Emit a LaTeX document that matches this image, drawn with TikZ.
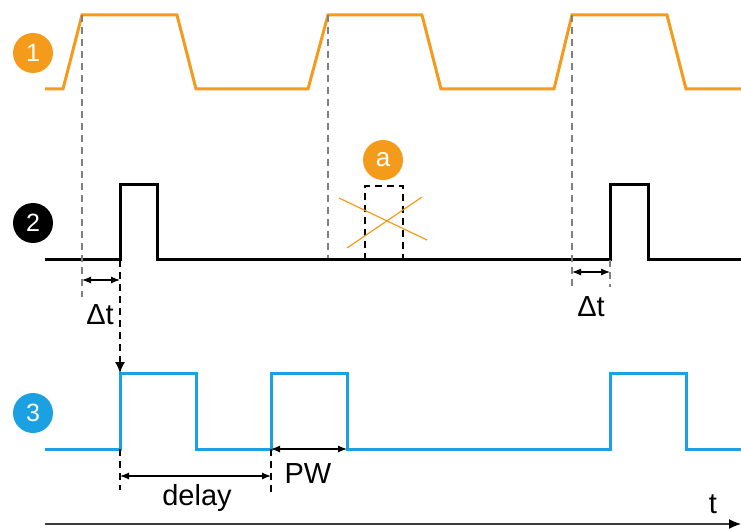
\documentclass[tikz,border=0pt]{standalone}
\usepackage{fontspec}
\setmainfont{Liberation Sans}
\usetikzlibrary{arrows.meta}
\definecolor{sig-orange}{HTML}{F59B1C}
\definecolor{sig-blue}{HTML}{1BA1E2}
\definecolor{guide-grey}{HTML}{808080}
\definecolor{axis-grey}{HTML}{3C3C3C}

\begin{document}
\begin{tikzpicture}[x=1pt, y=-1pt,
    every node/.style={font=\fontsize{29}{30}\selectfont},
    badge/.style={circle, fill=#1, text=white, minimum size=40pt, inner sep=0pt,
      font=\fontsize{25}{25}\selectfont},
    signal/.style={line width=3pt, draw=#1},
    guide/.style={draw=guide-grey, dash pattern=on 7pt off 5pt, line width=1.5pt},
    blackguide/.style={draw=black, dash pattern=on 7pt off 5pt, line width=1.3pt},
    dimarrow/.style={{Latex[length=9pt,width=7pt]}-{Latex[length=9pt,width=7pt]}, line width=1.2pt}]
    \useasboundingbox (0,0) rectangle (741,529);

    % labels of the three traces
    \node[badge=sig-orange] (n1) at (33,53) {1};
    \node[badge=black] (n2) at (33,223) {2};
    \node[badge=sig-blue] (n3) at (33,413) {3};

    % trace 1: trigger input
    \draw[signal=sig-orange] (45,89) -- (63,89) -- (82,15) -- (177,15) -- (196,89)
      -- (308,89) -- (328,15) -- (422,15) -- (441,89) -- (554,89) -- (572,15)
      -- (667,15) -- (686,89) -- (741,89);

    % trace 2
    \draw[signal=black] (45,260) -- (120,260) -- (120,185) -- (157,185) -- (157,260)
      -- (610,260) -- (610,185) -- (648,185) -- (648,260) -- (741,260);

    % trace 3
    \draw[signal=sig-blue] (45,449) -- (120,449) -- (120,373) -- (196,373) -- (196,449)
      -- (271,449) -- (271,373) -- (347,373) -- (347,449) -- (610,449) -- (610,373)
      -- (686,373) -- (686,449) -- (741,449);

    % suppressed pulse
    \draw[blackguide] (365,260) -- (365,186) -- (403,186) -- (403,260);
    \draw[sig-orange, line width=1.2pt] (339,198) -- (427,240);
    \draw[sig-orange, line width=1.2pt] (347,248) -- (422,197);
    \node[badge=sig-orange, font=\fontsize{26}{26}\selectfont] (na) at (383,160) {a};

    % edge guides
    \coordinate (e1top) at (82,15);
    \coordinate (e1bot) at (82,297);
    \coordinate (e2top) at (328,15);
    \coordinate (e2bot) at (328,258);
    \coordinate (e3top) at (572,15);
    \coordinate (e3bot) at (572,287);
    \coordinate (p2top) at (610,260);
    \coordinate (p2bot) at (610,287);
    \draw[guide] (e1top) -- (e1bot);
    \draw[guide] (e2top) -- (e2bot);
    \draw[guide] (e3top) -- (e3bot);
    \draw[guide] (p2top) -- (p2bot);

    \coordinate (p1start) at (120,260);
    \coordinate (out1) at (120,373);
    \draw[blackguide, -{Latex[length=11pt,width=10pt]}] (p1start) -- (out1);

    % delta t
    \coordinate (dtA) at (82,280);
    \coordinate (dtB) at (120,280);
    \draw[dimarrow] (dtA) -- (dtB);
    \node[anchor=base] (dtlabel1) at (100,324) {Δt};
    \coordinate (dtC) at (572,272);
    \coordinate (dtD) at (610,272);
    \draw[dimarrow] (dtC) -- (dtD);
    \node[anchor=base] (dtlabel2) at (591,316) {Δt};

    % delay and pulse width
    \coordinate (dl1top) at (120,449);
    \coordinate (dl1bot) at (120,490);
    \coordinate (dl2top) at (271,449);
    \coordinate (dl2bot) at (271,495);
    \draw[blackguide] (dl1top) -- (dl1bot);
    \draw[blackguide] (dl2top) -- (dl2bot);
    \coordinate (dlA) at (120,476);
    \coordinate (dlB) at (271,476);
    \draw[dimarrow] (dlA) -- (dlB);
    \node[anchor=base] (delaylabel) at (197,505) {delay};
    \coordinate (pwA) at (271,449);
    \coordinate (pwB) at (347,449);
    \draw[dimarrow] (pwA) -- (pwB);
    \node[anchor=base] (pwlabel) at (308,483) {PW};

    % time axis
    \coordinate (t0) at (45,524);
    \coordinate (t1) at (741,524);
    \draw[axis-grey, line width=1.5pt, -{Latex[length=12pt,width=10pt,color=black]}] (t0) -- (t1);
    \node[anchor=base] (tlabel) at (713,513) {t};
\end{tikzpicture}
\end{document}
